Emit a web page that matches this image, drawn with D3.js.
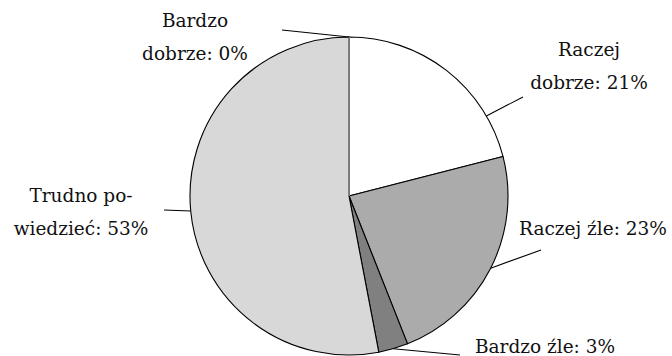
<!DOCTYPE html>
<html>
<head>
<meta charset="utf-8">
<script src="https://cdn.jsdelivr.net/npm/d3@7/dist/d3.min.js"></script>
<style>
  html, body { margin: 0; padding: 0; background: #fff; }
  svg { display: block; }
</style>
</head>
<body>
<svg id="chart" width="672" height="356"></svg>
<script>
// Opinion survey shares, in percent, drawn clockwise from 12 o'clock
const categories = ["Bardzo dobrze", "Raczej dobrze", "Raczej źle", "Bardzo źle", "Trudno powiedzieć"];
const shares = [0, 21, 23, 3, 53];
// Label text, one array of lines per slice
const labelLines = [
  ["Bardzo", "dobrze: 0%"],
  ["Raczej", "dobrze: 21%"],
  ["Raczej źle: 23%"],
  ["Bardzo źle: 3%"],
  ["Trudno po-", "wiedzieć: 53%"]
];
const fills = ["#d8d8d8", "#ffffff", "#ababab", "#808080", "#d8d8d8"];

// Label placement: where the pin leaves the rim (fraction of the turn),
// where the pin ends (offset from the centre) and where the text block is centred.
const pinLayout = [
  { at: null,  end: [-67, -166], text: [195, 27] },
  { at: 0.166, end: [174, -99],  text: [589, 56] },
  { at: null,  end: [192, 54],   text: [593, 235] },
  { at: null,  end: [111, 159],  text: [545, 353] },
  { at: null,  end: [-185, 14],  text: [81, 202] }
];

const cx = 349, cy = 196, r = 159, lineGap = 33;
const svg = d3.select("#chart");
const g = svg.append("g").attr("transform", `translate(${cx},${cy})`);

const pie = d3.pie().sort(null).value(d => d)
  .startAngle(0).endAngle(2 * Math.PI);
const arcs = pie(shares);
const arc = d3.arc().innerRadius(0).outerRadius(r);

g.selectAll("path.slice")
  .data(arcs)
  .join("path")
  .attr("class", "slice")
  .attr("d", arc)
  .attr("fill", (d, i) => fills[i])
  .attr("stroke", "#000")
  .attr("stroke-width", 1.1)
  .attr("stroke-linejoin", "round");

// The empty slice collapses to a single radius at 12 o'clock
const zero = arcs[0];
g.append("line")
  .attr("x1", 0).attr("y1", 0)
  .attr("x2", r * Math.sin(zero.startAngle))
  .attr("y2", -r * Math.cos(zero.startAngle))
  .attr("stroke", "#8a8a8a").attr("stroke-width", 1.6);

// Pins and labels
arcs.forEach((d, i) => {
  const lay = pinLayout[i];
  const a = lay.at !== null ? lay.at * 2 * Math.PI : (d.startAngle + d.endAngle) / 2;
  const x1 = r * Math.sin(a), y1 = -r * Math.cos(a);
  g.append("line")
    .attr("x1", x1).attr("y1", y1)
    .attr("x2", lay.end[0]).attr("y2", lay.end[1])
    .attr("stroke", "#000").attr("stroke-width", 1.1);

  const t = svg.append("text")
    .attr("x", lay.text[0]).attr("y", lay.text[1])
    .attr("text-anchor", "middle")
    .attr("font-family", "DejaVu Serif")
    .attr("font-size", 18.5)
    .attr("fill", "#111");
  labelLines[i].forEach((s, k) => {
    t.append("tspan").attr("x", lay.text[0]).attr("y", lay.text[1] + k * lineGap).text(s);
  });
});
</script>
</body>
</html>
